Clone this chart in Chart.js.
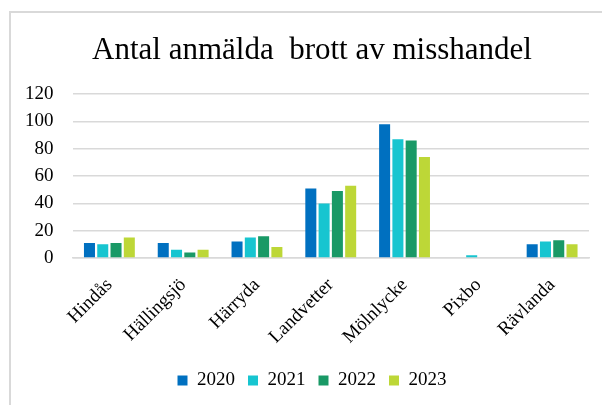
<!DOCTYPE html>
<html>
<head>
<meta charset="utf-8">
<script src="https://cdn.jsdelivr.net/npm/chart.js@4"></script>
<style>
  html, body { margin: 0; padding: 0; background: #fff; overflow: hidden; }
  .frame {
    position: absolute; left: 9px; top: 11px; width: 700px; height: 500px;
    border-left: 2px solid #d9d9d9; border-top: 2px solid #d9d9d9;
  }
  .wrap { position: absolute; left: 0; top: 0; width: 602px; height: 405px; }
</style>
</head>
<body>
<div class="frame"></div>
<div class="wrap"><canvas id="brottChart" width="602" height="405"></canvas></div>
<script>
const orter = ['Hindås', 'Hällingsjö', 'Härryda', 'Landvetter', 'Mölnlycke', 'Pixbo', 'Rävlanda'];
const ar2020 = [11, 11, 12, 51, 98, 0, 10];
const ar2021 = [10, 6, 15, 40, 87, 2, 12];
const ar2022 = [11, 4, 16, 49, 86, 0, 13];
const ar2023 = [15, 6, 8, 53, 74, 0, 10];
const yTicks = [0, 20, 40, 60, 80, 100, 120];

const serif = "'Liberation Serif', 'Times New Roman', serif";

const ctx = document.getElementById('brottChart').getContext('2d');
const brottChart = new Chart(ctx, {
  type: 'bar',
  data: {
    labels: orter,
    datasets: [
      { label: '2020', data: ar2020, backgroundColor: '#0070c0' },
      { label: '2021', data: ar2021, backgroundColor: '#17c5d0' },
      { label: '2022', data: ar2022, backgroundColor: '#199966' },
      { label: '2023', data: ar2023, backgroundColor: '#bdd737' },
    ],
  },
  options: {
    responsive: false,
    animation: false,
    categoryPercentage: 0.72,
    barPercentage: 0.83,
    // right padding is small so the title sits where the reference has it
    layout: { padding: { left: 26, right: 4, top: 0, bottom: 5 } },
    plugins: {
      title: {
        display: true,
        text: 'Antal anmälda  brott av misshandel',
        color: '#000',
        font: { family: serif, size: 31, weight: 'normal' },
        padding: { top: 32, bottom: 25 },
      },
      legend: {
        position: 'bottom',
        labels: {
          color: '#000',
          font: { family: serif, size: 19 },
          boxWidth: 10,
          boxHeight: 10,
          padding: 13,
        },
      },
      tooltip: { enabled: false },
    },
    scales: {
      x: {
        grid: { display: false },
        border: { color: '#d9d9d9', width: 1.5 },
        ticks: {
          color: '#000',
          font: { family: serif, size: 19 },
          minRotation: 45,
          maxRotation: 45,
          padding: 8,
        },
        // keep the plot edges where the reference has them
        afterFit: (scale) => {
          scale.height = 100;
          scale.paddingLeft = 0;
          scale.paddingRight = 13;
        },
      },
      y: {
        min: 0,
        max: 120,
        afterBuildTicks: (scale) => {
          scale.ticks = yTicks.map((v) => ({ value: v }));
        },
        afterFit: (scale) => {
          scale.width = 46.5;
        },
        grid: { color: '#d9d9d9', lineWidth: 1.5, drawTicks: false },
        border: { display: false },
        ticks: {
          color: '#000',
          font: { family: serif, size: 19 },
          padding: 19,
        },
      },
    },
  },
});
</script>
</body>
</html>
